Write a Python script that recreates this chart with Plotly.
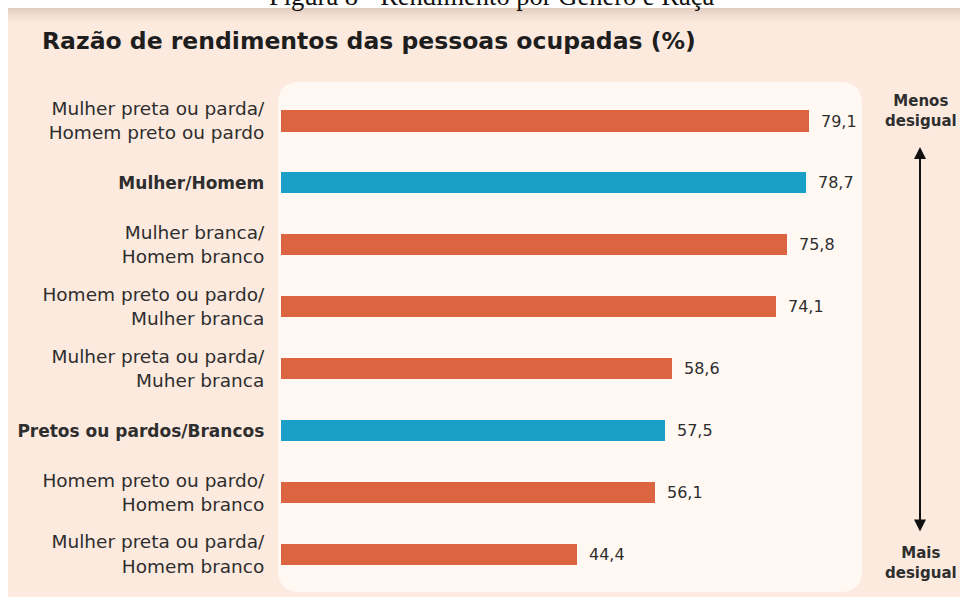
import plotly.graph_objects as go

W, H = 960, 600

categories = [
    "Mulher preta ou parda/<br>Homem preto ou pardo",
    "<b>Mulher/Homem</b>",
    "Mulher branca/<br>Homem branco",
    "Homem preto ou pardo/<br>Mulher branca",
    "Mulher preta ou parda/<br>Muher branca",
    "<b>Pretos ou pardos/Brancos</b>",
    "Homem preto ou pardo/<br>Homem branco",
    "Mulher preta ou parda/<br>Homem branco",
]
values = [79.1, 78.7, 75.8, 74.1, 58.6, 57.5, 56.1, 44.4]
groups = ["cross", "total", "cross", "cross", "cross", "total", "cross", "cross"]

title_text = "Razão de rendimentos das pessoas ocupadas (%)"
caption_text = "Figura 8 - Rendimento por Gênero e Raça"
top_label = "Menos<br>desigual"
bottom_label = "Mais<br>desigual"

ORANGE = "#DD6441"
BLUE = "#1A9FC8"
PEACH = "#FDEADF"
PANEL = "#FFF8F3"
TEXT = "#2E2E2E"
FONT = "DejaVu Sans"

def px(x):
    return x / W

def py(y):
    return 1 - y / H

# axis geometry (pixels)
x0_px, x1_px = 281, 862
px_per_unit = (809 - 281) / 79.1
xmax = (x1_px - x0_px) / px_per_unit
yc0, ystep = 121, 61.86
ytop_px, ybot_px = 82, 592
y_top = -(yc0 - ytop_px) / ystep
y_bot = (ybot_px - yc0) / ystep

idx = list(range(len(categories)))
colors = [BLUE if g == "total" else ORANGE for g in groups]
tick_text = [
    f'<span style="font-size:17px">{c}</span>' if g == "total" else c
    for c, g in zip(categories, groups)
]

fig = go.Figure()
fig.add_trace(go.Bar(
    x=values, y=idx, orientation="h",
    marker=dict(color=colors, line=dict(width=0)),
    width=0.34, hoverinfo="x+y",
))

annotations = []
for i, v in zip(idx, values):
    annotations.append(dict(
        x=v, y=i, xref="x", yref="y", text=f"{v:.1f}".replace(".", ","),
        showarrow=False, xanchor="left", yanchor="middle", xshift=10,
        font=dict(family=FONT, size=16, color=TEXT),
    ))

annotations += [
    dict(x=px(40), y=py(41), xref="paper", yref="paper", text=f"<b>{title_text}</b>",
         showarrow=False, xanchor="left", yanchor="middle",
         font=dict(family=FONT, size=23.5, color="#1E1E1E")),
    dict(x=px(491), y=py(13), xref="paper", yref="paper", text=caption_text,
         showarrow=False, xanchor="center", yanchor="bottom",
         font=dict(family="Liberation Serif", size=26.5, color="#111111")),
    dict(x=px(921), y=py(111), xref="paper", yref="paper", text=f"<b>{top_label}</b>",
         showarrow=False, xanchor="center", yanchor="middle",
         font=dict(family=FONT, size=15, color=TEXT)),
    dict(x=px(921), y=py(563), xref="paper", yref="paper", text=f"<b>{bottom_label}</b>",
         showarrow=False, xanchor="center", yanchor="middle",
         font=dict(family=FONT, size=15, color=TEXT)),
    dict(x=px(920), y=py(147), xref="paper", yref="paper", text="",
         ax=0, ay=386, axref="pixel", ayref="pixel",
         showarrow=True, arrowside="end+start", arrowhead=2, startarrowhead=2,
         arrowsize=1.2, startarrowsize=1.2, arrowwidth=2, arrowcolor="#111111"),
]

# rounded panel
l, r, t, b = px(278), px(862), py(82), py(592)
rx, ry = 22 / W, 22 / H
panel_path = (
    f"M {l+rx},{t} L {r-rx},{t} Q {r},{t} {r},{t-ry} "
    f"L {r},{b+ry} Q {r},{b} {r-rx},{b} L {l+rx},{b} "
    f"Q {l},{b} {l},{b+ry} L {l},{t-ry} Q {l},{t} {l+rx},{t} Z"
)

shapes = [
    dict(type="rect", xref="paper", yref="paper", x0=px(8), x1=1, y0=py(597), y1=py(8),
         fillcolor=PEACH, line=dict(width=0), layer="below"),
]
# top shadow band on the peach area
shade = ["#E2CDBF", "#E8D3C6", "#EEDACE", "#F3E0D5", "#F7E4D9", "#FAE7DC"]
for k, c in enumerate(shade):
    shapes.append(dict(type="rect", xref="paper", yref="paper", x0=px(8), x1=1,
                       y0=py(8 + 2.5 * (k + 1)), y1=py(8 + 2.5 * k),
                       fillcolor=c, line=dict(width=0), layer="below"))
shapes.append(dict(type="path", path=panel_path, xref="paper", yref="paper",
                   fillcolor=PANEL, line=dict(width=0), layer="below"))

fig.update_layout(
    width=W, height=H,
    margin=dict(l=0, r=0, t=0, b=0),
    paper_bgcolor="white", plot_bgcolor="rgba(0,0,0,0)",
    showlegend=False,
    xaxis=dict(domain=[px(x0_px), px(x1_px)], range=[0, xmax], visible=False, fixedrange=True),
    yaxis=dict(domain=[py(ybot_px), py(ytop_px)], range=[y_bot, y_top],
               tickvals=idx, ticktext=tick_text, showgrid=False, zeroline=False,
               showline=False, ticks="outside", ticklen=12, tickcolor="rgba(0,0,0,0)",
               tickfont=dict(family=FONT, size=18.5, color=TEXT), fixedrange=True),
    annotations=annotations,
    shapes=shapes,
    bargap=0,
)

fig.write_html(
    "out.html",
    config={"displayModeBar": False},
    post_script="document.body.style.margin='0';document.body.style.overflow='hidden';",
)
